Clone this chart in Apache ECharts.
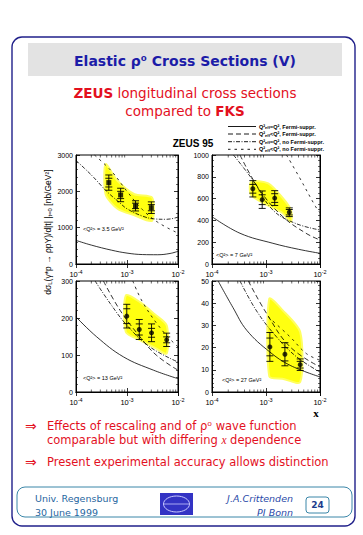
<!DOCTYPE html>
<html><head><meta charset="utf-8">
<script src="https://cdn.jsdelivr.net/npm/echarts@6/dist/echarts.min.js"></script>
<style>html,body{margin:0;padding:0;background:#fff}#c{width:363px;height:535px}</style>
</head><body><div id="c"></div>
<script>
// ---------------- data ----------------
const xTickValues = [1e-4, 1e-3, 1e-2];
const xTickExponents = ['-4', '-3', '-2'];
const xMinorTicks = [2e-4,3e-4,4e-4,5e-4,6e-4,7e-4,8e-4,9e-4,2e-3,3e-3,4e-3,5e-3,6e-3,7e-3,8e-3,9e-3];
const yTicks1 = [0, 1000, 2000, 3000];
const yTicks2 = [0, 200, 400, 600, 800, 1000];
const yTicks3 = [0, 100, 200, 300];
const yTicks4 = [0, 10, 20, 30, 40, 50];
const q2Values = ['3.5', '7', '13', '27'];
const curveNames = ['Q²eff=Q², Fermi-suppr.', 'Q²eff<Q², Fermi-suppr.', 'Q²eff=Q², no Fermi-suppr.', 'Q²eff<Q², no Fermi-suppr.'];

// panel 1 : <Q2> = 3.5 GeV2
const p1X = [4.4e-4, 7.5e-4, 1.47e-3, 3.0e-3];
const p1Y = [2240, 1900, 1600, 1550];
const p1ErrTot = [210, 185, 140, 160];
const p1ErrStat = [120, 100, 75, 85];
const p1BandX = [3.8e-4, 6.5e-4, 1.4e-3, 3.1e-3];
const p1BandHi = [2750, 2290, 1920, 1830];
const p1BandLo = [1920, 1520, 1340, 1190];
const p1Solid = [[1e-4,650],[2e-4,520],[5e-4,380],[1e-3,300],[2e-3,260],[4e-3,255],[7e-3,290],[1e-2,350]];
const p1DashDot = [[1e-4,2850],[2e-4,2450],[4e-4,2000],[7e-4,1700],[1e-3,1520],[2e-3,1320],[3.5e-3,1240],[6e-3,1230],[1e-2,1290]];
const p1Sparse = [[2.3e-4,3000],[5e-4,2550],[1e-3,2000],[2e-3,1500],[4e-3,1150],[1e-2,850]];

// panel 2 : <Q2> = 7 GeV2
const p2X = [5.7e-4, 8.5e-4, 1.45e-3, 2.7e-3];
const p2Y = [690, 590, 605, 475];
const p2ErrTot = [75, 80, 68, 40];
const p2ErrStat = [40, 45, 40, 25];
const p2BandX = [5.3e-4, 1.1e-3, 2.0e-3, 2.9e-3];
const p2BandHi = [755, 740, 610, 495];
const p2BandLo = [633, 535, 470, 388];
const p2Solid = [[1e-4,434],[3.3e-4,282],[1.34e-3,190],[4e-3,135],[1e-2,98]];
const p2Dashed = [[3.3e-4,1000],[7.6e-4,680],[2.05e-3,434],[5.5e-3,282],[1e-2,220]];
const p2DashDot = [[2.5e-4,1000],[5.7e-4,770],[1.34e-3,495],[3.5e-3,373],[1e-2,312]];
const p2Sparse = [[2.4e-3,1000],[4.1e-3,800],[8.3e-3,526],[1e-2,470]];

// panel 3 : <Q2> = 13 GeV2
const p3X = [9.9e-4, 1.74e-3, 3.03e-3, 6.0e-3];
const p3Y = [205, 169, 160, 141];
const p3ErrTot = [32, 27, 24, 18];
const p3ErrStat = [20, 15, 12, 8];
const p3BandX = [9.5e-4, 1.8e-3, 3.5e-3, 6.0e-3];
const p3BandHi = [261, 243, 210, 180];
const p3BandLo = [162, 140, 120, 104];
const p3Solid = [[1e-4,203],[2.55e-4,149],[8.5e-4,95],[3.3e-3,59],[1e-2,36]];
const p3Dashed = [[3.45e-4,300],[7.3e-4,221],[1.8e-3,149],[3.8e-3,99],[1e-2,59]];
const p3DashDot = [[2.37e-4,300],[4.7e-4,239],[1e-3,180],[2.8e-3,122],[1e-2,81]];
const p3Sparse = [[1.3e-3,300],[2.1e-3,239],[5.2e-3,162],[1e-2,122]];

// panel 4 : <Q2> = 27 GeV2
const p4X = [1.18e-3, 2.24e-3, 4.3e-3];
const p4Y = [20.3, 17, 12.3];
const p4ErrTot = [6.5, 5.2, 2.6];
const p4ErrStat = [4, 3, 1.5];
const p4BandX = [1.15e-3, 2.0e-3, 4.3e-3];
const p4BandHi = [42, 37, 27];
const p4BandLo = [7, 6, 4.5];
const p4Solid = [[1.3e-4,50],[2.45e-4,38],[4.4e-4,27.8],[1.18e-3,18],[2.8e-3,12],[1e-2,6.8]];
const p4Dashed = [[4.7e-4,50],[1.03e-3,35.3],[2.8e-3,20.3],[1e-2,11.3]];
const p4DashDot = [[3.3e-4,50],[6.7e-4,36.5],[1.57e-3,24.8],[3.7e-3,15.8],[1e-2,9]];
const p4Sparse = [[1.1e-3,33.8],[2.8e-3,24.8],[5.6e-3,17.3],[1e-2,14.3]];

// ---------------- layout ----------------
const panels = [
  {grid:{left:76, top:155, width:102, height:109}, yTicks:yTicks1, minor:5, X:p1X, Y:p1Y, ET:p1ErrTot, ES:p1ErrStat, BX:p1BandX, BH:p1BandHi, BL:p1BandLo, curves:[p1Solid, null, p1DashDot, p1Sparse], sym:'rect', q2:q2Values[0], lab:[83,229]},
  {grid:{left:212, top:155, width:108, height:109}, yTicks:yTicks2, minor:4, X:p2X, Y:p2Y, ET:p2ErrTot, ES:p2ErrStat, BX:p2BandX, BH:p2BandHi, BL:p2BandLo, curves:[p2Solid, p2Dashed, p2DashDot, p2Sparse], sym:'circle', q2:q2Values[1], lab:[216,255]},
  {grid:{left:76, top:281, width:102, height:111}, yTicks:yTicks3, minor:5, X:p3X, Y:p3Y, ET:p3ErrTot, ES:p3ErrStat, BX:p3BandX, BH:p3BandHi, BL:p3BandLo, curves:[p3Solid, p3Dashed, p3DashDot, p3Sparse], sym:'circle', q2:q2Values[2], lab:[83,378]},
  {grid:{left:212, top:281, width:108, height:111}, yTicks:yTicks4, minor:5, X:p4X, Y:p4Y, ET:p4ErrTot, ES:p4ErrStat, BX:p4BandX, BH:p4BandHi, BL:p4BandLo, curves:[p4Solid, p4Dashed, p4DashDot, p4Sparse], sym:'circle', q2:q2Values[3], lab:[222,380]}
];
const lineTypes = ['solid', [5,3], [4,1.5,1,1.5], [2.5,4]];
const TICKFONT = 'Liberation Sans';

const grids = [], xAxes = [], yAxes = [], series = [];
panels.forEach((p, i) => {
  grids.push(Object.assign({show:true, borderColor:'#000', borderWidth:1, backgroundColor:'transparent'}, p.grid));
  const xBase = {type:'log', logBase:10, min:xTickValues[0], max:xTickValues[xTickValues.length-1], gridIndex:i,
    splitLine:{show:false}, axisLine:{show:true, lineStyle:{color:'#000', width:1}},
    axisTick:{show:true, inside:true, length:4, lineStyle:{color:'#000', width:0.8}}};
  xAxes.push(Object.assign({}, xBase, {position:'bottom', axisLabel:{show:true, margin:5, color:'#000', fontSize:7.5, fontFamily:TICKFONT,
    rich:{s:{fontSize:5.5, fontFamily:TICKFONT, verticalAlign:'top', padding:[0,0,5,0], color:'#000'}},
    formatter: v => { const k = xTickValues.findIndex(t => Math.abs(Math.log10(t) - Math.log10(v)) < 1e-6); return k >= 0 ? '10{s|' + xTickExponents[k] + '}' : ''; }}}));
  xAxes.push(Object.assign({}, xBase, {position:'top', axisLabel:{show:false}}));
  const yt = p.yTicks;
  const yBase = {type:'value', min:yt[0], max:yt[yt.length-1], interval:yt[1]-yt[0], gridIndex:i,
    splitLine:{show:false}, axisLine:{show:true, lineStyle:{color:'#000', width:1}},
    axisTick:{show:true, inside:true, length:4, lineStyle:{color:'#000', width:0.8}},
    minorTick:{show:true, splitNumber:p.minor, length:2, lineStyle:{color:'#000', width:0.6}}};
  yAxes.push(Object.assign({}, yBase, {position:'left', axisLabel:{show:true, margin:3, color:'#000', fontSize:7, fontFamily:TICKFONT, formatter: v => String(v)}}));
  yAxes.push(Object.assign({}, yBase, {position:'right', axisLabel:{show:false}}));
  const xa = 2*i, ya = 2*i;
  // yellow band
  series.push({type:'custom', xAxisIndex:xa, yAxisIndex:ya, silent:true, z:1, clip:true,
    data: p.BX.map((x, k) => [x, p.BH[k], p.BL[k]]), encode:{x:0, y:[1,2]},
    renderItem: (params, api) => {
      if (params.dataIndex !== 0) return null;
      const pts = [];
      p.BX.forEach((x, k) => pts.push(api.coord([x, p.BH[k]])));
      for (let k = p.BX.length - 1; k >= 0; k--) pts.push(api.coord([p.BX[k], p.BL[k]]));
      return {type:'polygon', shape:{points:pts, smooth:0.25}, style:{fill:'#ffff10', stroke:'#ffff60', lineWidth:2}};
    }});
  // minor log ticks on x (bottom & top)
  series.push({type:'custom', xAxisIndex:xa, yAxisIndex:ya, silent:true, z:5, clip:false,
    data: xMinorTicks.map(x => [x, yt[0]]), encode:{x:0, y:1},
    renderItem: (params, api) => {
      const cs = params.coordSys;
      const px = api.coord([api.value(0), yt[0]])[0];
      return {type:'group', children:[
        {type:'line', shape:{x1:px, y1:cs.y+cs.height, x2:px, y2:cs.y+cs.height-2.5}, style:{stroke:'#000', lineWidth:0.6}},
        {type:'line', shape:{x1:px, y1:cs.y, x2:px, y2:cs.y+2.5}, style:{stroke:'#000', lineWidth:0.6}}
      ]};
    }});
  // curves
  p.curves.forEach((c, k) => {
    if (!c) return;
    series.push({type:'line', name:curveNames[k], xAxisIndex:xa, yAxisIndex:ya, data:c, smooth:0.4, symbol:'none', z:3,
      clip:true, lineStyle:{color:'#000', width:0.8, type:lineTypes[k]}, itemStyle:{color:'#000'}});
  });
  // error bars
  series.push({type:'custom', xAxisIndex:xa, yAxisIndex:ya, silent:true, z:6,
    data: p.X.map((x, k) => [x, p.Y[k], p.ET[k], p.ES[k]]), encode:{x:0, y:1},
    renderItem: (params, api) => {
      const x = api.value(0), y = api.value(1), et = api.value(2), es = api.value(3);
      const c = api.coord([x, y]);
      const t = api.coord([x, y + et])[1], b = api.coord([x, y - et])[1];
      const st = api.coord([x, y + es])[1], sb = api.coord([x, y - es])[1];
      const w = 3.5, sty = {stroke:'#000', lineWidth:0.9};
      return {type:'group', children:[
        {type:'line', shape:{x1:c[0], y1:t, x2:c[0], y2:b}, style:sty},
        {type:'line', shape:{x1:c[0]-w, y1:t, x2:c[0]+w, y2:t}, style:sty},
        {type:'line', shape:{x1:c[0]-w, y1:b, x2:c[0]+w, y2:b}, style:sty},
        {type:'line', shape:{x1:c[0]-w, y1:st, x2:c[0]+w, y2:st}, style:sty},
        {type:'line', shape:{x1:c[0]-w, y1:sb, x2:c[0]+w, y2:sb}, style:sty}
      ]};
    }});
  // data points
  series.push({type:'scatter', xAxisIndex:xa, yAxisIndex:ya, z:7, symbol:p.sym, symbolSize:5,
    itemStyle:{color:'#000'}, data:p.X.map((x, k) => [x, p.Y[k]])});
});

// ---------------- decorations (text) ----------------
const RED = '#e3101e', BLUE = '#1c1ca8', TEAL = '#1f66a0', SANS = 'DejaVu Sans';
function txt(x, y, text, style, extra) {
  return Object.assign({type:'text', x:x, y:y, silent:true, z:50,
    style:Object.assign({text:text, fill:'#000', align:'left', verticalAlign:'middle', textAlign:'left', textVerticalAlign:'middle'}, style)}, extra || {});
}
const graphics = [
  {type:'rect', silent:true, z:0, shape:{x:12, y:37, width:343, height:489, r:10}, style:{fill:'none', stroke:'#20208a', lineWidth:1.4}},
  {type:'rect', silent:true, z:0, shape:{x:28, y:43, width:314, height:33}, style:{fill:'#e3e3e3'}},
  txt(185, 61, 'Elastic ρ⁰ Cross Sections (V)', {fontSize:14, fontWeight:'bold', fontFamily:SANS, fill:BLUE, align:'center', textAlign:'center'}),
  txt(185, 93, '{b|ZEUS} longitudinal cross sections', {fontSize:13.5, fontFamily:SANS, fill:RED, align:'center', textAlign:'center', rich:{b:{fontSize:13.5, fontWeight:'bold', fontFamily:SANS, fill:RED}}}),
  txt(185, 111, 'compared to {b|FKS}', {fontSize:13.5, fontFamily:SANS, fill:RED, align:'center', textAlign:'center', rich:{b:{fontSize:13.5, fontWeight:'bold', fontFamily:SANS, fill:RED}}}),
  txt(193, 143, 'ZEUS 95', {fontSize:10, fontWeight:'bold', fontFamily:'Liberation Sans', align:'center', textAlign:'center'}),
  txt(48, 232, 'dσ{s|L}(γ*p → ρpY)/d|t| |{s|t=0} [nb/GeV²]', {fontSize:8.5, fontFamily:'Liberation Sans', align:'center', textAlign:'center',
    rich:{s:{fontSize:6, fontFamily:'Liberation Sans', verticalAlign:'bottom', padding:[4,0,0,0]}}}, {rotation:Math.PI/2}),
  txt(316, 413, 'x', {fontSize:11, fontWeight:'bold', fontFamily:'Liberation Serif', align:'center', textAlign:'center'}),
  txt(25, 426, '⇒', {fontSize:14, fontFamily:SANS, fill:RED}),
  txt(47, 426, 'Effects of rescaling and of ρ⁰ wave function', {fontSize:11.5, fontFamily:SANS, fill:RED}),
  txt(47, 440, 'comparable but with differing {i|x} dependence', {fontSize:11.5, fontFamily:SANS, fill:RED, rich:{i:{fontSize:11.5, fontStyle:'italic', fontFamily:'Liberation Serif', fill:RED}}}),
  txt(25, 462, '⇒', {fontSize:14, fontFamily:SANS, fill:RED}),
  txt(47, 462, 'Present experimental accuracy allows distinction', {fontSize:11.5, fontFamily:SANS, fill:RED}),
  // footer
  {type:'rect', silent:true, z:0, shape:{x:17, y:487, width:335, height:30, r:8}, style:{fill:'none', stroke:'#3a86a8', lineWidth:1}},
  txt(35, 498, 'Univ. Regensburg', {fontSize:9.5, fontFamily:SANS, fill:TEAL}),
  txt(35, 512, '30 June 1999', {fontSize:9.5, fontFamily:SANS, fill:TEAL}),
  {type:'rect', silent:true, z:1, shape:{x:160, y:493, width:33, height:22}, style:{fill:'#3333c4'}},
  {type:'ellipse', silent:true, z:2, shape:{cx:176.5, cy:504, rx:13, ry:8}, style:{fill:'none', stroke:'#c8c8ff', lineWidth:1}},
  {type:'line', silent:true, z:2, shape:{x1:164, y1:504, x2:189, y2:504}, style:{stroke:'#c8c8ff', lineWidth:0.8}},
  txt(293, 498, 'J.A.Crittenden', {fontSize:9.5, fontStyle:'italic', fontFamily:SANS, fill:'#2a4aa8', align:'right', textAlign:'right'}),
  txt(293, 512, 'PI Bonn', {fontSize:9.5, fontStyle:'italic', fontFamily:SANS, fill:'#2a4aa8', align:'right', textAlign:'right'}),
  {type:'rect', silent:true, z:1, shape:{x:306, y:497, width:23, height:16, r:3}, style:{fill:'none', stroke:'#3a86a8', lineWidth:1}},
  txt(317.5, 505, '24', {fontSize:9, fontWeight:'bold', fontFamily:SANS, fill:'#1c3c8c', align:'center', textAlign:'center'})
];
panels.forEach(p => {
  graphics.push(txt(p.lab[0], p.lab[1], '<Q²> = ' + p.q2 + ' GeV²', {fontSize:5.5, fontFamily:'Liberation Sans'}));
});
// legend (line samples + labels)
const legendRows = [126.5, 134, 141.7, 149.3];
curveNames.forEach((n, k) => {
  const lt = lineTypes[k];
  graphics.push({type:'line', silent:true, z:50, shape:{x1:228, y1:legendRows[k], x2:256, y2:legendRows[k]},
    style:{stroke:'#000', lineWidth:0.9, lineDash: lt === 'solid' ? null : lt}});
  graphics.push(txt(259, legendRows[k], n.replace('eff', '{s|eff}'), {fontSize:5.5, fontWeight:'bold', fontFamily:'Liberation Sans',
    rich:{s:{fontSize:4, fontWeight:'bold', fontFamily:'Liberation Sans', verticalAlign:'bottom', padding:[2,0,0,0]}}}));
});

const option = {
  animation:false,
  backgroundColor:'#fff',
  grid:grids, xAxis:xAxes, yAxis:yAxes, series:series,
  graphic:{elements:graphics}
};
const chart = echarts.init(document.getElementById('c'), null, {renderer:'svg'});
chart.setOption(option);
</script></body></html>
